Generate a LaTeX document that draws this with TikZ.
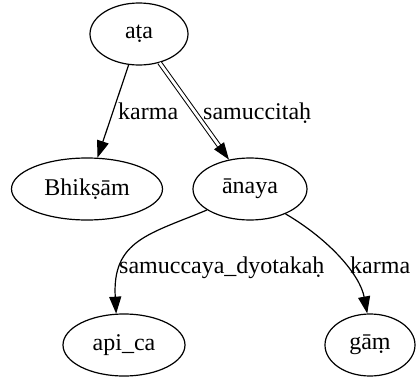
\documentclass[tikz,border=0pt]{standalone}
\usepackage{fontspec}
\setmainfont{Liberation Serif}
\usetikzlibrary{arrows.meta,shapes.geometric}
\begin{document}
\begin{tikzpicture}[x=1pt,y=-1pt,
  word/.style={draw, ellipse, line width=1.2pt, inner sep=0pt,
    font=\fontsize{24}{28}\selectfont, minimum height=62pt},
  rel/.style={-{Triangle[length=17pt,width=12pt]}, line width=1.2pt},
  lbl/.style={anchor=base west, inner sep=0pt, font=\fontsize{24}{28}\selectfont}]
\useasboundingbox (0,0) rectangle (416,378);

% words
\node[word, minimum width=98pt]  (ata)   at (139,34)  {aṭa};
\node[word, minimum width=151pt] (bhik)  at (87,189)  {Bhikṣām};
\node[word, minimum width=114pt] (anaya) at (250,189) {ānaya};
\node[word, minimum width=122pt] (apica) at (124,345) {api\_ca};
\node[word, minimum width=90pt]  (gam)   at (370,345) {gāṃ};

% relations
\draw[rel] (ata) -- (bhik);
\draw[rel, double, double distance=2.8pt, line width=1pt] (ata) -- (anaya);
\draw[rel] (anaya.206) .. controls (150,234) and (112,240) .. (apica.104);
\draw[rel] (anaya.-35) .. controls (330,240) and (360,275) .. (gam.95);

% relation labels
\node[lbl] (l1) at (118,119) {karma};
\node[lbl] (l2) at (203,119) {samuccitaḥ};
\node[lbl] (l3) at (119,273) {samuccaya\_dyotakaḥ};
\node[lbl] (l4) at (350,273) {karma};
\end{tikzpicture}
\end{document}
